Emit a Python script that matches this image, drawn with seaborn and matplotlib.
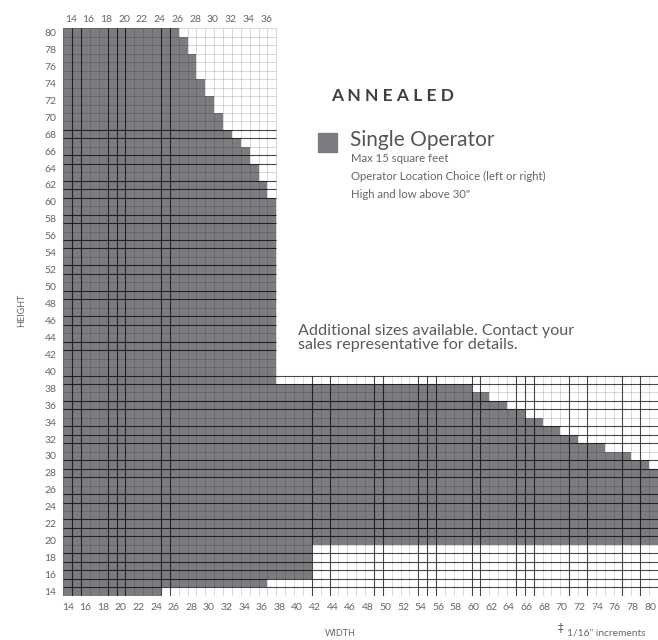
import numpy as np
import pandas as pd
import seaborn as sns
import matplotlib.pyplot as plt
from matplotlib.colors import ListedColormap

sns.set_style("white")
plt.rcParams['font.family'] = ['Lato', 'DejaVu Sans']

# sizes in inches
widths = list(range(14, 81))
heights = list(range(80, 13, -1))

# tall part of the chart (widths 14-37): highest available height per width
tall_widths = list(range(14, 38))
tall_max = [80, 80, 80, 80, 80, 80, 80, 80, 80, 80, 80, 80, 80,
            79, 77, 74, 72, 70, 68, 67, 66, 64, 62, 60]

# wide part (heights up to 39): highest available height per width
band_max = ([38] * 46 + [37, 37, 36, 36, 35, 35, 34, 34, 33, 33, 32, 32]
            + [31, 31, 31, 30, 30, 30, 29, 29, 28])
# lowest available height per width
min_h = [14] * 11 + [15] * 12 + [16] * 5 + [20] * 39

band_top = 39           # the gridded band covers heights 14-39
tall_last = 37          # the gridded column block covers widths 14-37

# darker reference lines of the grid
dark_w = [15, 16, 19, 20, 21, 25, 26, 42, 44, 49, 50, 54, 55, 56, 60, 61,
          65, 66, 67, 71, 73, 77, 79]
dark_h = [68, 67, 65, 64, 62, 61, 60, 58, 57, 55, 54, 52, 51, 49, 48, 46,
          45, 43, 42, 39, 38, 36, 35, 33, 32, 31, 29, 28, 27, 25, 24, 22,
          21, 20, 18, 17, 16, 15, 14]

tall = dict(zip(tall_widths, tall_max))
grid = pd.DataFrame(np.nan, index=heights, columns=widths)
for i, w in enumerate(widths):
    for h in heights:
        if w <= tall_last or h <= band_top:
            top = max(tall.get(w, 0), band_max[i])
            grid.loc[h, w] = 1.0 if min_h[i] <= h <= top else 0.0

fig = plt.figure(figsize=(6.58, 6.4), dpi=100)
ax = fig.add_axes([63.3 / 658, 1 - 595.7 / 640, (658 - 63.3) / 658, (595.7 - 28.3) / 640])

sns.heatmap(grid, mask=grid.isna(), cmap=ListedColormap(['#ffffff', '#7b7c80']),
            vmin=0, vmax=1, cbar=False, linewidths=0,
            xticklabels=False, yticklabels=False, ax=ax)

# grid lines only where the grid exists
n_tall = widths.index(tall_last) + 1
band_row = heights.index(band_top)
for x in range(len(widths) + 1):
    y0 = 0 if x <= n_tall else band_row
    dark = x < len(widths) and widths[x] in dark_w
    ax.vlines(x, y0, len(heights), color='black', alpha=0.72 if dark else 0.22,
              lw=0.8 if dark else 0.5)
for y in range(len(heights) + 1):
    x1 = n_tall if y < band_row else len(widths)
    dark = y < len(heights) and heights[y] in dark_h
    ax.hlines(y, 0, x1, color='black', alpha=0.72 if dark else 0.22,
              lw=0.8 if dark else 0.5)

tick_color = '#666666'
bottom_labels = widths[::2]
ax.set_xticks([widths.index(w) + 0.5 - 0.4 * widths.index(w) / 66 for w in bottom_labels])
ax.set_xticklabels(bottom_labels, fontsize=7.5, color=tick_color)
ax.set_yticks([heights.index(h) + 0.5 for h in heights[::2]])
ax.set_yticklabels(heights[::2], fontsize=7.5, color=tick_color, rotation=0)
ax.tick_params(length=0, pad=5)

axt = ax.twiny()
axt.set_xlim(ax.get_xlim())
top_labels = tall_widths[::2]
axt.set_xticks([widths.index(w) + 0.85 for w in top_labels])
axt.set_xticklabels(top_labels, fontsize=7.5, color=tick_color)
axt.tick_params(length=0, pad=3)
for s in axt.spines.values():
    s.set_visible(False)

fig.text(22 / 658, 1 - 310 / 640, 'HEIGHT', rotation=90, fontsize=6.5,
         color=tick_color, ha='center', va='center')
fig.text(340 / 658, 1 - 633 / 640, 'WIDTH', fontsize=6.5, color=tick_color,
         ha='center', va='center')
fig.text(561 / 658, 1 - 628 / 640, '\u2021', fontsize=8.5, color=tick_color,
         ha='center', va='center', family=['DejaVu Sans'])
fig.text(567 / 658, 1 - 633 / 640, '1/16" increments', fontsize=7.3,
         color=tick_color, ha='left', va='center')

fig.text(331 / 658, 1 - 96 / 640, '\u2009\u2009'.join('ANNEALED'),
         fontsize=12.5, fontweight='bold', color='#3f3f3f', ha='left', va='center')
fig.patches.append(plt.Rectangle((318 / 658, 1 - 152 / 640), 19 / 658, 19 / 640,
                                 transform=fig.transFigure, color='#7b7c80'))
fig.text(350 / 658, 1 - 140 / 640, 'Single Operator', fontsize=15,
         color='#555555', ha='left', va='center')
sub_lines = ['Max 15 square feet', 'Operator Location Choice (left or right)',
             'High and low above 30"']
for k, line in enumerate(sub_lines):
    fig.text(351 / 658, 1 - (158 + 18 * k) / 640, line, fontsize=8.2,
             color='#666666', ha='left', va='center')

fig.text(298 / 658, 1 - 338 / 640,
         'Additional sizes available. Contact your\nsales representative for details.',
         fontsize=11.6, color='#5a5a5a', ha='left', va='center', linespacing=1.0)

fig.savefig('out.png', dpi=100)
